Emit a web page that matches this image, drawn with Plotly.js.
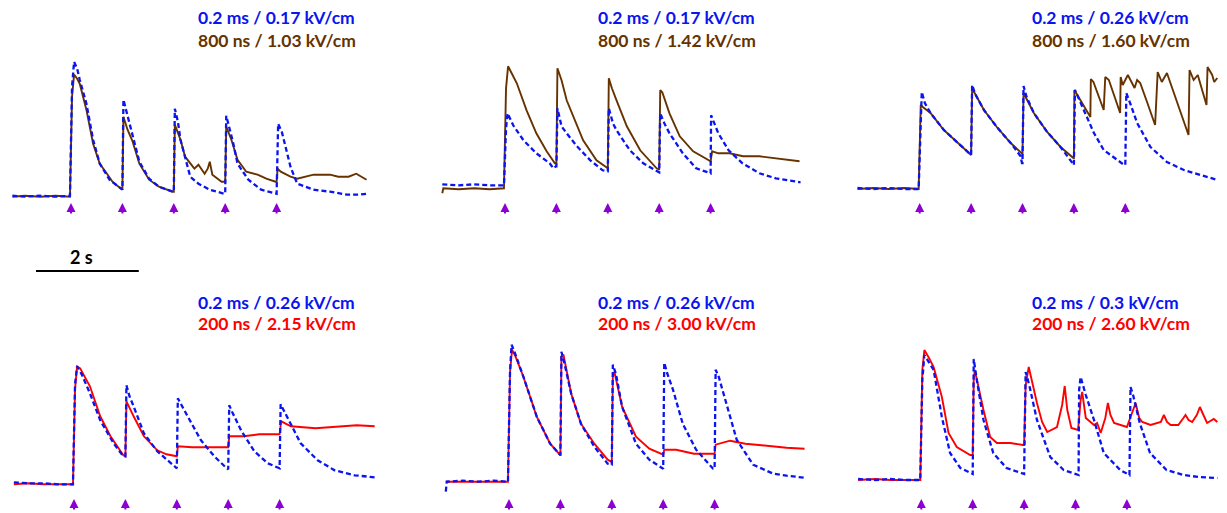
<!DOCTYPE html>
<html><head><meta charset="utf-8">
<script src="https://cdn.plot.ly/plotly-3.0.1.min.js"></script>
<style>html,body{margin:0;padding:0;background:#fff}#g{width:1227px;height:513px}</style>
</head><body><div id="g"></div>
<script>
// ---------- DATA (time in s from first stimulus, signal in a.u.) ----------
const stimTimes = [0, 1, 2, 3, 4];

const p1_blue_t = [-1.14,-0.9,-0.6,-0.3,-0.02,0.02,0.06,0.12,0.17,0.3,0.43,0.56,0.75,0.98,1.0,1.02,1.08,1.2,1.33,1.52,1.71,1.98,2.0,2.02,2.08,2.13,2.32,2.48,2.7,2.98,3.0,3.02,3.08,3.15,3.24,3.45,3.7,3.98,4.0,4.03,4.1,4.14,4.27,4.4,4.72,5.04,5.37,5.6,5.75];
const p1_blue   = [1,0,1,0,1,110,135,128,117,93,57,33,17,7,7,97,85,62,35,18,10,5,5,88,75,57,20,13,7,3,3,81,70,55,33,17,7,3,3,73,65,57,30,13,7,5,2,2,3];
const p1_brown_t = [-1.14,-0.9,-0.6,-0.3,-0.02,0.02,0.06,0.12,0.17,0.3,0.43,0.56,0.7,0.82,0.98,1.0,1.02,1.1,1.2,1.33,1.52,1.71,1.98,2.0,2.02,2.13,2.22,2.32,2.4,2.48,2.6,2.66,2.7,2.75,2.93,2.99,3.0,3.02,3.12,3.24,3.41,3.63,3.8,3.98,4.0,4.02,4.08,4.27,4.4,4.72,5.04,5.2,5.4,5.55,5.65,5.75];
const p1_brown   = [0,1,0,1,0,100,122,118,113,87,53,33,23,14,8,8,80,67,55,33,17,10,5,5,72,57,40,33,28,32,23,28,35,22,15,15,15,70,57,37,25,22,18,15,15,28,25,20,18,22,22,20,20,23,20,17];

const p2_blue_t = [-1.22,-0.9,-0.6,-0.3,-0.02,0.02,0.05,0.16,0.36,0.61,0.87,0.94,0.99,1.0,1.02,1.1,1.2,1.4,1.66,1.9,1.98,2.0,2.02,2.1,2.17,2.43,2.69,2.95,2.99,3.0,3.02,3.1,3.2,3.46,3.72,3.98,4.0,4.01,4.15,4.35,4.62,4.95,5.27,5.5,5.75];
const p2_blue   = [4,3,4,3,3,60,75,63,48,35,25,20,22,22,80,62,55,42,28,18,17,17,80,65,58,38,25,17,16,16,75,65,55,35,20,15,15,73,55,38,25,15,10,8,6];
const p2_brown_t = [-1.22,-1.2,-0.9,-0.6,-0.3,-0.02,0.02,0.06,0.1,0.23,0.42,0.61,0.81,0.97,0.99,1.0,1.02,1.1,1.2,1.33,1.52,1.78,1.98,2.0,2.02,2.08,2.17,2.37,2.63,2.95,2.99,3.0,3.02,3.06,3.2,3.4,3.66,3.98,4.0,4.03,4.15,4.37,4.63,4.95,5.27,5.5,5.73];
const p2_brown   = [-5,0,-1,0,-1,0,100,122,118,105,78,55,37,25,25,25,120,108,88,72,48,28,20,20,110,100,88,62,38,20,19,19,98,96,75,52,37,27,27,37,35,35,32,32,30,29,27];

const p3_blue_t = [-1.21,-0.9,-0.6,-0.3,-0.02,0.02,0.04,0.1,0.21,0.47,0.73,0.99,1.0,1.02,1.08,1.25,1.5,1.77,1.96,1.99,2.0,2.02,2.08,2.22,2.48,2.74,2.97,2.99,3.0,3.02,3.1,3.19,3.39,3.58,3.84,3.98,4.0,4.02,4.1,4.23,4.49,4.81,5.14,5.47,5.79];
const p3_blue   = [1,0,1,0,0,80,97,86,76,59,47,34,34,104,95,79,62,46,33,26,26,103,92,76,57,42,26,24,24,99,90,79,56,39,29,24,24,96,85,66,42,27,19,14,9];
const p3_brown_t = [-1.21,-0.9,-0.6,-0.3,-0.02,0.02,0.06,0.21,0.47,0.73,0.99,1.0,1.02,1.08,1.25,1.5,1.77,1.99,2.0,2.02,2.08,2.22,2.48,2.74,2.99,3.0,3.01,3.13,3.32,3.33,3.38,3.58,3.61,3.68,3.9,3.91,3.95,4.0,4.05,4.13,4.18,4.23,4.29,4.43,4.58,4.63,4.71,4.81,5.08,5.23,5.25,5.33,5.41,5.58,5.6,5.69,5.73,5.79];
const p3_brown   = [0,1,0,1,0,84,82,76,59,47,34,34,100,95,79,62,46,35,35,96,90,76,57,42,31,31,99,89,72,110,107,79,112,109,76,112,104,109,114,106,101,109,106,86,64,117,107,116,77,54,119,109,114,84,122,114,107,111];

const p4_blue_t = [-1.17,-0.9,-0.6,-0.3,-0.02,0.02,0.06,0.15,0.31,0.51,0.77,0.96,0.99,1.0,1.02,1.08,1.16,1.36,1.62,1.94,1.99,2.0,2.02,2.08,2.21,2.47,2.73,2.97,2.99,3.0,3.02,3.08,3.25,3.51,3.77,3.99,4.0,4.02,4.1,4.22,4.41,4.74,5.07,5.46,5.85];
const p4_blue   = [2,1,1,0,0,100,118,110,91,64,41,28,28,28,99,88,78,51,33,18,16,16,86,80,68,44,28,16,15,15,79,72,54,33,21,16,16,80,72,61,41,24,14,9,7];
const p4_red_t = [-1.17,-0.9,-0.6,-0.3,-0.02,0.02,0.06,0.12,0.31,0.51,0.71,0.96,0.99,1.0,1.02,1.08,1.16,1.36,1.62,1.8,1.99,2.0,2.02,2.3,2.6,2.99,3.0,3.02,3.3,3.6,3.99,4.0,4.03,4.22,4.7,5.2,5.5,5.85];
const p4_red   = [0,1,0,0,0,95,118,116,98,68,48,29,28,28,83,76,68,48,34,30,28,28,38,37,37,37,37,48,48,50,50,50,63,58,56,58,59,58];

const p5_blue_t = [-1.23,-1.21,-0.9,-0.6,-0.3,-0.02,0.02,0.05,0.12,0.28,0.54,0.8,0.99,1.0,1.02,1.08,1.21,1.4,1.66,1.92,1.99,2.0,2.02,2.08,2.2,2.47,2.73,2.99,3.0,3.02,3.08,3.19,3.38,3.64,3.97,4.0,4.02,4.08,4.23,4.43,4.75,5.14,5.4,5.75];
const p5_blue   = [-10,0,1,0,1,0,110,137,128,105,65,38,27,27,130,118,88,58,35,18,17,17,117,108,75,38,22,13,13,119,108,92,58,32,13,13,112,105,78,42,17,8,6,4];
const p5_red_t = [-1.23,-0.9,-0.6,-0.3,-0.02,0.02,0.06,0.12,0.28,0.54,0.8,0.99,1.0,1.02,1.06,1.21,1.4,1.66,1.92,1.99,2.0,2.02,2.05,2.2,2.47,2.73,2.99,3.0,3.02,3.25,3.6,3.97,4.0,4.02,4.3,4.6,5.14,5.4,5.75];
const p5_red   = [0,0,0,0,0,110,132,126,105,65,38,27,27,125,127,88,58,38,22,20,20,105,110,75,45,33,27,27,32,32,28,28,28,37,41,38,35,34,33];

const p6_blue_t = [-1.23,-0.9,-0.6,-0.3,-0.02,0.02,0.06,0.15,0.24,0.4,0.56,0.76,0.99,1.0,1.02,1.08,1.21,1.4,1.66,1.98,2.0,2.03,2.1,2.25,2.51,2.77,3.06,3.07,3.1,3.2,3.36,3.55,3.87,4.05,4.07,4.12,4.25,4.45,4.77,5.1,5.4,5.76];
const p6_blue   = [1,0,1,0,0,100,125,118,110,63,27,12,6,6,121,100,60,27,12,6,6,108,95,60,23,10,5,90,103,85,60,27,10,5,93,85,57,27,10,5,3,2];
const p6_red_t = [-1.23,-0.9,-0.6,-0.3,-0.02,0.02,0.06,0.15,0.24,0.4,0.53,0.69,0.95,0.99,1.0,1.02,1.04,1.21,1.34,1.47,1.73,1.98,2.0,2.03,2.09,2.17,2.25,2.35,2.45,2.64,2.74,2.79,2.84,2.92,3.05,3.1,3.13,3.2,3.36,3.42,3.49,3.58,3.63,3.68,3.75,4.0,4.12,4.17,4.24,4.3,4.46,4.66,4.72,4.78,4.85,5.0,5.1,5.14,5.2,5.27,5.36,5.42,5.48,5.56,5.69,5.76];
const p6_red   = [0,1,0,0,0,110,130,122,113,83,47,33,25,25,25,100,110,70,43,37,37,35,35,95,113,95,77,58,48,53,75,94,70,52,50,80,88,62,55,57,47,62,77,65,57,53,70,77,62,58,55,58,65,58,55,55,62,65,60,58,65,73,66,57,61,58];

const titleBlue = ["0.2 ms / 0.17 kV/cm","0.2 ms / 0.17 kV/cm","0.2 ms / 0.26 kV/cm","0.2 ms / 0.26 kV/cm","0.2 ms / 0.26 kV/cm","0.2 ms / 0.3 kV/cm"];
const titleSecond = ["800 ns / 1.03 kV/cm","800 ns / 1.42 kV/cm","800 ns / 1.60 kV/cm","200 ns / 2.15 kV/cm","200 ns / 3.00 kV/cm","200 ns / 2.60 kV/cm"];
const scaleLabel = "2 s";
const scaleLength = 2;

// ---------- LAYOUT / STYLE ----------
const W = 1227, H = 513, PXS = 51.4;
const BLUE = '#0a14f0', BROWN = '#663300', RED = '#ff0000', PURPLE = '#8e00d2';
const FONT = 'Lato, Liberation Sans, sans-serif';
const panels = [
  {bt:p1_blue_t,b:p1_blue,st:p1_brown_t,s:p1_brown,sc:BROWN,L:0,R:409,A:71,B:196.7,top:true,tx:196},
  {bt:p2_blue_t,b:p2_blue,st:p2_brown_t,s:p2_brown,sc:BROWN,L:409,R:818,A:505,B:188.3,top:true,tx:596},
  {bt:p3_blue_t,b:p3_blue,st:p3_brown_t,s:p3_brown,sc:BROWN,L:818,R:1227,A:919.7,B:189,top:true,tx:1030},
  {bt:p4_blue_t,b:p4_blue,st:p4_red_t,s:p4_red,sc:RED,L:0,R:409,A:74,B:484.3,top:false,tx:196},
  {bt:p5_blue_t,b:p5_blue,st:p5_red_t,s:p5_red,sc:RED,L:409,R:818,A:509,B:481.7,top:false,tx:596},
  {bt:p6_blue_t,b:p6_blue,st:p6_red_t,s:p6_red,sc:RED,L:818,R:1227,A:921.3,B:480,top:false,tx:1030}
];
const traces = [], annotations = [], shapes = [];
const layout = {width:W, height:H, margin:{l:0,r:0,t:0,b:0}, paper_bgcolor:'#fff', plot_bgcolor:'rgba(0,0,0,0)', showlegend:false};
panels.forEach((p,i)=>{
  const n = i+1, xa = 'x'+(n>1?n:''), ya = 'y'+(n>1?n:'');
  const yTop = p.top ? 45 : 330, yBot = p.top ? 230 : 513;
  const axc = {visible:false, showgrid:false, zeroline:false, fixedrange:true};
  layout['xaxis'+(n>1?n:'')] = Object.assign({}, axc, {domain:[p.L/W, p.R/W], range:[(p.L-p.A)/PXS,(p.R-p.A)/PXS], anchor:ya});
  layout['yaxis'+(n>1?n:'')] = Object.assign({}, axc, {domain:[1-yBot/H, 1-yTop/H], range:[p.B-yBot, p.B-yTop], anchor:xa});
  traces.push({x:p.st, y:p.s, xaxis:xa, yaxis:ya, mode:'lines', line:{color:p.sc, width:1.9}, hoverinfo:'skip'});
  traces.push({x:p.bt, y:p.b, xaxis:xa, yaxis:ya, mode:'lines', line:{color:BLUE, width:2.3, dash:'5px,3px'}, hoverinfo:'skip'});
  const headY = p.top ? 203 : 499;
  stimTimes.forEach(t=>{
    annotations.push({x:t, xref:xa, y:1-headY/H, yref:'paper', text:'', showarrow:true, ax:0, ay:12, standoff:0, startstandoff:0, arrowhead:2, arrowsize:0.9, arrowwidth:2, arrowcolor:PURPLE});
  });
  const y1 = p.top ? 17 : 302, y2 = p.top ? 40 : 323;
  annotations.push({x:p.tx/W, xref:'paper', y:1-y1/H, yref:'paper', xanchor:'left', yanchor:'middle', showarrow:false, text:'<b>'+titleBlue[i]+'</b>', font:{family:FONT, size:17.5, color:BLUE}});
  annotations.push({x:p.tx/W, xref:'paper', y:1-y2/H, yref:'paper', xanchor:'left', yanchor:'middle', showarrow:false, text:'<b>'+titleSecond[i]+'</b>', font:{family:FONT, size:17.5, color:p.sc}});
});
// scale bar (2 s) drawn on panel 4 time axis
const sb0 = (36-74)/PXS;
shapes.push({type:'line', xref:'x4', yref:'paper', x0:sb0, x1:sb0+scaleLength, y0:1-271/H, y1:1-271/H, line:{color:'#000', width:2}});
annotations.push({x:81/W, xref:'paper', y:1-257/H, yref:'paper', showarrow:false, xanchor:'center', yanchor:'middle', text:'<b>'+scaleLabel+'</b>', font:{family:FONT, size:18, color:'#000'}});
layout.annotations = annotations;
layout.shapes = shapes;
Plotly.newPlot('g', traces, layout, {staticPlot:true, displayModeBar:false});
</script>
</body></html>
